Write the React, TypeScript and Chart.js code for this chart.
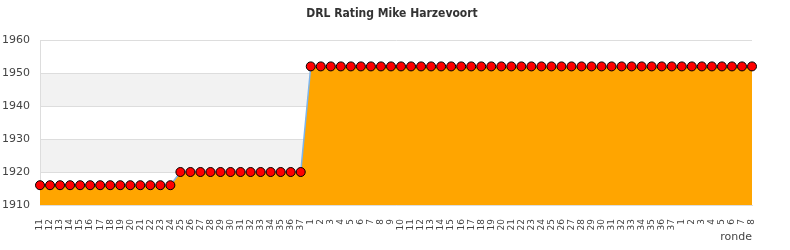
import React, { useEffect, useRef } from "react";
import { Chart, registerables } from "chart.js";

Chart.register(...registerables);

const titleText = "DRL Rating Mike Harzevoort";
const xTitle = "ronde";

const roundsA = ["11","12","13","14","15","16","17","18","19","20","21","22","23","24","25","26","27","28","29","30","31","32","33","34","35","36","37"];
const roundsB = ["1","2","3","4","5","6","7","8","9","10","11","12","13","14","15","16","17","18","19","20","21","22","23","24","25","26","27","28","29","30","31","32","33","34","35","36","37"];
const roundsC = ["1","2","3","4","5","6","7","8"];
const labels = [...roundsA, ...roundsB, ...roundsC];

const ratingsA = [1916,1916,1916,1916,1916,1916,1916,1916,1916,1916,1916,1916,1916,1916,1920,1920,1920,1920,1920,1920,1920,1920,1920,1920,1920,1920,1920];
const ratingsB = [1952,1952,1952,1952,1952,1952,1952,1952,1952,1952,1952,1952,1952,1952,1952,1952,1952,1952,1952,1952,1952,1952,1952,1952,1952,1952,1952,1952,1952,1952,1952,1952,1952,1952,1952,1952,1952];
const ratingsC = [1952,1952,1952,1952,1952,1952,1952,1952];
const ratings = [...ratingsA, ...ratingsB, ...ratingsC];

const yMin = 1910;
const yMax = 1960;
const yStep = 10;
const bandRanges = [[1940, 1950], [1920, 1930]];

const bandPlugin = {
  id: "bands",
  beforeDraw(chart: any) {
    const { ctx, chartArea, scales } = chart;
    const y = scales.y;
    ctx.save();
    ctx.fillStyle = "#f2f2f2";
    bandRanges.forEach(([a, b]) => {
      const top = y.getPixelForValue(b);
      const bot = y.getPixelForValue(a);
      ctx.fillRect(chartArea.left, top, chartArea.right - chartArea.left, bot - top);
    });
    ctx.restore();
  },
};

export default function App() {
  const ref = useRef<HTMLCanvasElement>(null);
  useEffect(() => {
    document.body.style.margin = "0";
    const chart = new Chart(ref.current as HTMLCanvasElement, {
      type: "line",
      data: {
        labels,
        datasets: [
          {
            data: ratings,
            borderColor: "#7cb5ec",
            borderWidth: 1.5,
            backgroundColor: "#ffa500",
            fill: "start",
            tension: 0,
            pointRadius: 4.5,
            pointBackgroundColor: "#ff0000",
            pointBorderColor: "#000000",
            pointBorderWidth: 1,
          },
        ],
      },
      plugins: [bandPlugin],
      options: {
        animation: false,
        responsive: false,
        events: [],
        layout: { padding: { left: 0, right: 6, top: 0, bottom: 0 } },
        plugins: {
          legend: { display: false },
          tooltip: { enabled: false },
          title: {
            display: true,
            text: titleText,
            color: "#333333",
            font: { family: "'DejaVu Sans Condensed', sans-serif", size: 12, weight: "bold", lineHeight: 1.2 },
            padding: { top: 7, bottom: 18.6 },
          },
        },
        scales: {
          x: {
            grid: { display: false, drawTicks: false },
            border: { display: true, color: "#dddddd" },
            ticks: {
              autoSkip: false,
              maxRotation: 90,
              minRotation: 90,
              padding: 14,
              color: "#444444",
              font: { family: "'DejaVu Sans', sans-serif", size: 9 },
            },
            title: {
              display: true,
              text: xTitle,
              align: "end",
              color: "#444444",
              font: { family: "'DejaVu Sans', sans-serif", size: 11 },
              padding: { top: 0, bottom: 6 },
            },
            afterFit(scale: any) {
              scale.height = 45;
            },
          },
          y: {
            min: yMin,
            max: yMax,
            grid: { color: "#dddddd", drawTicks: false },
            border: { display: true, color: "#dddddd" },
            ticks: {
              stepSize: yStep,
              padding: 10,
              color: "#444444",
              font: { family: "'DejaVu Sans', sans-serif", size: 11 },
              callback: (v: any) => String(v),
            },
            afterFit(scale: any) {
              scale.width = 40;
            },
          },
          yr: {
            position: "right",
            display: true,
            grid: { display: false, drawTicks: false },
            border: { display: false },
            ticks: { display: false },
            afterFit(scale: any) {
              scale.width = 32;
            },
          },
        },
      },
    });
    return () => chart.destroy();
  }, []);
  return <canvas ref={ref} width={790} height={250} style={{ display: "block", width: 790, height: 250 }} />;
}
